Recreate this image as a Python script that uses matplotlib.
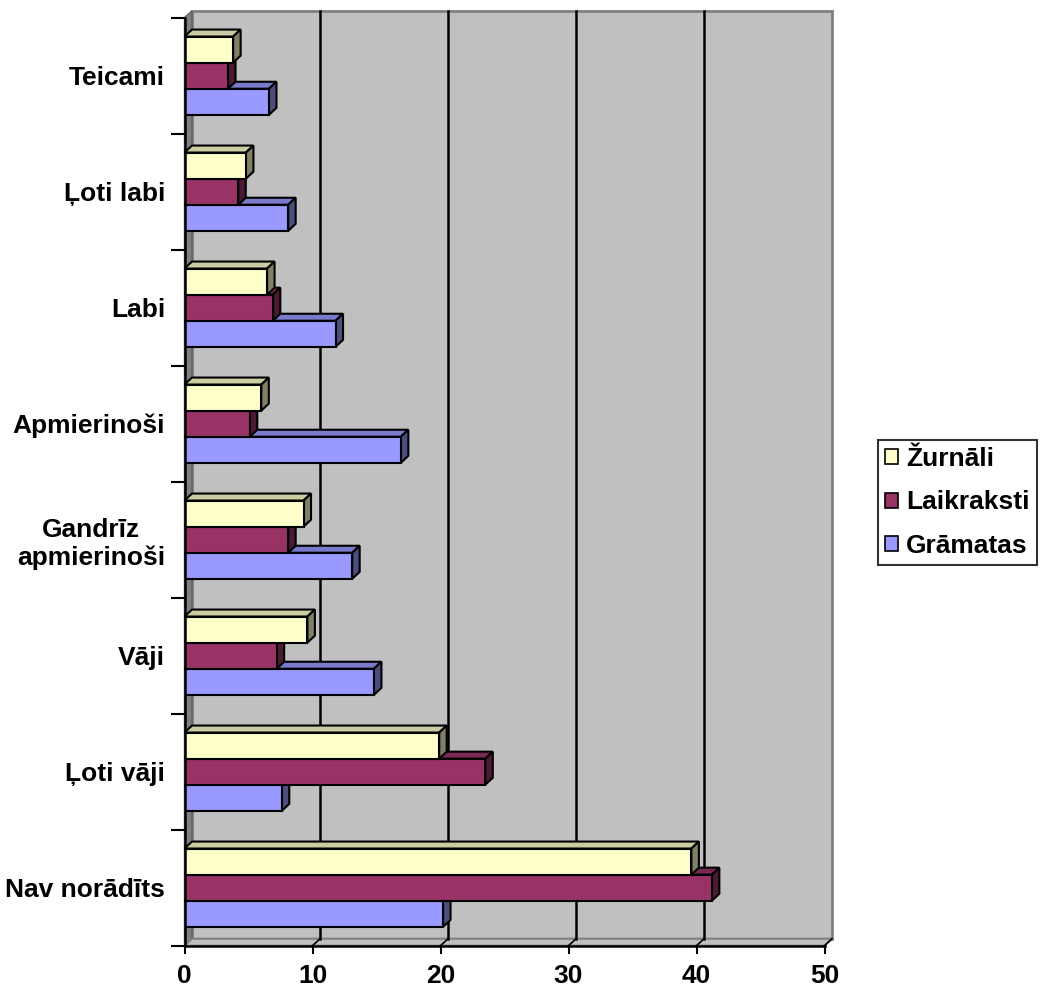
import matplotlib
matplotlib.use("Agg")
import matplotlib.pyplot as plt
from matplotlib.patches import Polygon, Patch

# data (bottom to top as drawn)
categories = ["Nav norādīts", "Ļoti vāji", "Vāji", "Gandrīz\napmierinoši",
              "Apmierinoši", "Labi", "Ļoti labi", "Teicami"]
gramatas = [20.2, 7.6, 14.8, 13.1, 16.9, 11.8, 8.1, 6.6]
laikraksti = [41.2, 23.5, 7.2, 8.1, 5.1, 6.9, 4.2, 3.4]
zurnali = [39.6, 19.9, 9.6, 9.3, 6.0, 6.45, 4.8, 3.8]
xticks = [0, 10, 20, 30, 40, 50]

series = [
    ("Grāmatas", gramatas, "#9999FF", "#7A7ACC", "#4D4D80"),
    ("Laikraksti", laikraksti, "#993366", "#7A2952", "#4D1A33"),
    ("Žurnāli", zurnali, "#FFFFCC", "#CCCCA3", "#808066"),
]

plt.rcParams["font.family"] = ["Liberation Sans", "DejaVu Sans"]
plt.rcParams["font.weight"] = "bold"
FS = 19

W, H = 1040, 990
fig = plt.figure(figsize=(W / 100, H / 100), dpi=100)
ax_w, ax_h = 640, 928
ax = fig.add_axes([184.5 / W, (H - 945.7) / H, ax_w / W, ax_h / H])
xmax, ncat = 50, len(categories)
ax.set_xlim(0, xmax)
ax.set_ylim(0, ncat)

# depth of the 3d effect, in data units
ddx = xmax * 7.5 / ax_w
ddy = ncat * 7.0 / ax_h

# back wall, side wall and floor
ax.add_patch(Polygon([(ddx, ddy), (xmax + ddx, ddy), (xmax + ddx, ncat + ddy), (ddx, ncat + ddy)],
                     closed=True, facecolor="#C0C0C0", edgecolor="#808080", lw=2, clip_on=False, zorder=0))
ax.add_patch(Polygon([(0, 0), (ddx, ddy), (ddx, ncat + ddy), (0, ncat)],
                     closed=True, facecolor="#808080", edgecolor="#606060", lw=1, clip_on=False, zorder=1))
ax.add_patch(Polygon([(0, 0), (xmax, 0), (xmax + ddx, ddy), (ddx, ddy)],
                     closed=True, facecolor="#C0C0C0", edgecolor="#808080", lw=1.5, clip_on=False, zorder=1))
for xv in xticks[1:]:
    if xv < xmax:
        ax.plot([xv + ddx, xv + ddx], [ddy, ncat + ddy], color="black", lw=1.8, clip_on=False, zorder=1.5)
    ax.plot([xv, xv + ddx], [0, ddy], color="black", lw=1.2, clip_on=False, zorder=1.5)

# bars
bh = 0.225
z = 2
for i in range(ncat):
    c = i + 0.5
    for k, (name, vals, front, top, side) in enumerate(series):
        y0 = c - 1.5 * bh + k * bh
        y1 = y0 + bh
        v = vals[i]
        ax.add_patch(Polygon([(0, y1), (v, y1), (v + ddx, y1 + ddy), (ddx, y1 + ddy)],
                             closed=True, facecolor=top, edgecolor="black", lw=1.5, clip_on=False, zorder=z))
        ax.add_patch(Polygon([(v, y0), (v + ddx, y0 + ddy), (v + ddx, y1 + ddy), (v, y1)],
                             closed=True, facecolor=side, edgecolor="black", lw=1.5, clip_on=False, zorder=z))
        ax.barh([y0], [v], height=bh, align="edge", color=front, edgecolor="black", lw=1.5, zorder=z + 0.5)
        z += 1

# axes
for s in ["top", "right"]:
    ax.spines[s].set_visible(False)
ax.spines["left"].set_linewidth(1.8)
ax.spines["bottom"].set_linewidth(1.8)
ax.spines["left"].set_zorder(200)
ax.spines["bottom"].set_zorder(200)
ax.set_facecolor("none")

ax.set_yticks(range(ncat + 1))
ax.set_yticklabels([])
ax.set_yticks([i + 0.5 for i in range(ncat)], minor=True)
ax.set_yticklabels(categories, minor=True, fontsize=FS, fontweight="bold", multialignment="center")
ax.tick_params(axis="y", which="major", length=10, width=1.5, direction="out")
ax.tick_params(axis="y", which="minor", length=0, pad=14)

ax.set_xticks(xticks)
ax.set_xticklabels([str(t) for t in xticks], fontsize=FS, fontweight="bold")
ax.tick_params(axis="x", length=6, width=1.5, direction="out", pad=7)

handles = [Patch(facecolor=s[2], edgecolor="black", lw=1.2) for s in series[::-1]]
labels = [s[0] for s in series[::-1]]
leg = fig.legend(handles, labels, loc="center left", bbox_to_anchor=(878 / W, 1 - 502.5 / H),
                 frameon=True, fancybox=False, edgecolor="black", fontsize=FS,
                 handlelength=0.5, handleheight=0.5, handletextpad=0.3,
                 labelspacing=0.74, borderpad=0.27, borderaxespad=0)
leg.get_frame().set_linewidth(1.5)
for t in leg.get_texts():
    t.set_fontweight("bold")

fig.savefig("out.png", dpi=100)
